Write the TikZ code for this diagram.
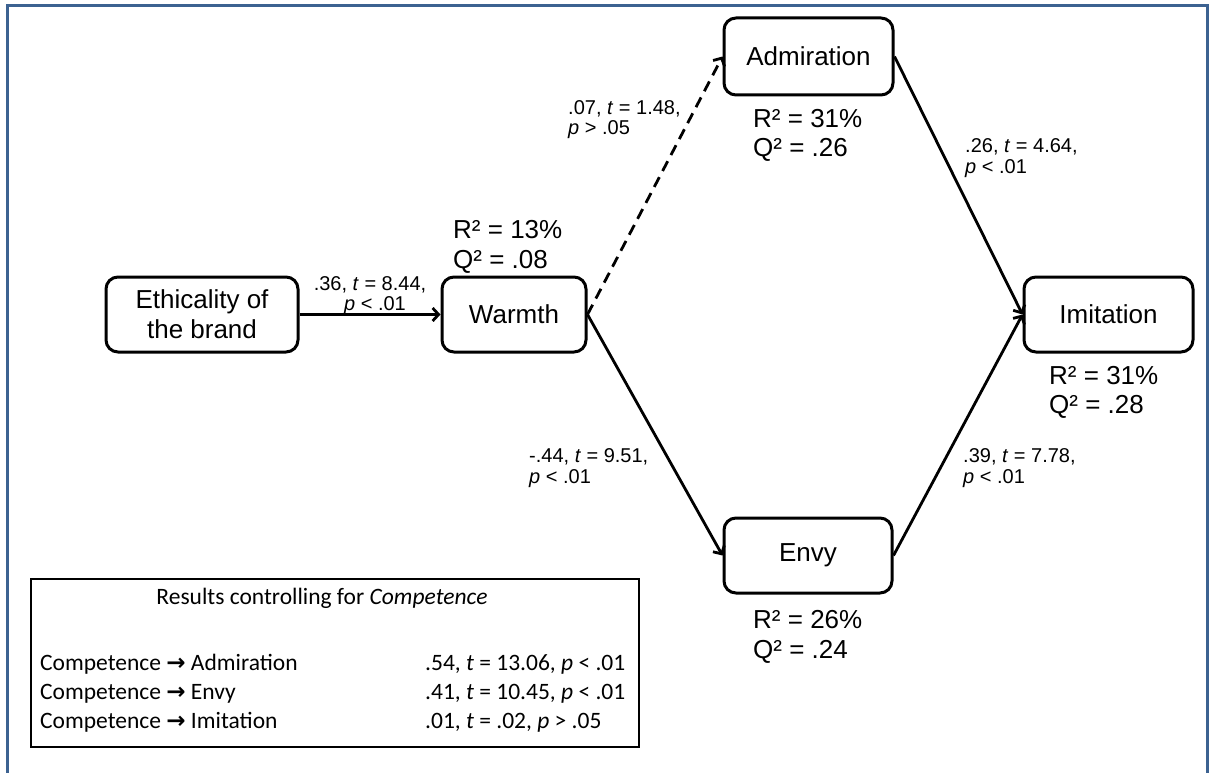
\documentclass[tikz,border=0pt]{standalone}
\usepackage{fontspec}
\setmainfont{Liberation Sans}
\newfontfamily\calib{Carlito}
\newfontfamily\dvsb{DejaVu Sans Bold}
\usetikzlibrary{arrows.meta}
\definecolor{framec}{RGB}{60,98,145}
\begin{document}
\begin{tikzpicture}[x=1pt,y=-1pt,
  box/.style={draw, line width=3pt, rounded corners=12pt, align=center, inner sep=0pt,
    font=\fontsize{26}{30}\selectfont},
  conn/.style={line width=2.8pt, -{Straight Barb[length=6pt,width=13pt]}},
  dashconn/.style={conn, dash pattern=on 11pt off 7pt},
  elab/.style={inner sep=0pt, font=\fontsize{20}{22}\selectfont},
  rlab/.style={inner sep=0pt, anchor=base west, font=\fontsize{26}{30}\selectfont},
  leg/.style={inner sep=0pt, font=\calib\fontsize{23.5}{28}\selectfont},
]
\useasboundingbox (0,0) rectangle (1209,773);
\clip (0,0) rectangle (1209,773);
% frame
\coordinate (fbl) at (7,775);
\coordinate (ftl) at (7,5.5);
\coordinate (ftr) at (1207.5,5.5);
\coordinate (fbr) at (1207.5,775);
\draw[framec, line width=3pt] (fbl) -- (ftl) -- (ftr) -- (fbr);

% boxes
\node[box, minimum width=192pt, minimum height=75pt] (eth) at (202,314.5) {Ethicality of\\the brand};
\node[box, minimum width=144pt, minimum height=75pt] (warmth) at (514,314.5) {Warmth};
\node[box, minimum width=169pt, minimum height=77pt] (adm) at (808.5,56.5) {Admiration};
\node[box, minimum width=168pt, minimum height=75pt] (env) at (808,555.5) {Envy};
\node[box, minimum width=169pt, minimum height=75pt] (imi) at (1108.5,314.5) {Imitation};

% connectors
\draw[conn] (eth.east) -- (warmth.west);
\draw[dashconn] (warmth.east) -- (adm.west);
\draw[conn] (warmth.east) -- (env.west);
\draw[conn] (adm.east) -- (imi.west);
\draw[conn] (env.east) -- (imi.west);

% edge labels
\node[elab, anchor=base] (l1a) at (370,290) {.36, \textit{t} = 8.44,};
\node[elab, anchor=base] (l1b) at (375,310) {\textit{p} < .01};
\node[elab, anchor=base west] (l2a) at (568,114) {.07, \textit{t} = 1.48,};
\node[elab, anchor=base west] (l2b) at (568,135) {\textit{p} > .05};
\node[elab, anchor=base west] (l3a) at (965,152) {.26, \textit{t} = 4.64,};
\node[elab, anchor=base west] (l3b) at (965,173) {\textit{p} < .01};
\node[elab, anchor=base west] (l4a) at (529,462) {-.44, \textit{t} = 9.51,};
\node[elab, anchor=base west] (l4b) at (529,483) {\textit{p} < .01};
\node[elab, anchor=base west] (l5a) at (963,462) {.39, \textit{t} = 7.78,};
\node[elab, anchor=base west] (l5b) at (963,483) {\textit{p} < .01};

% R2 / Q2 labels
\node[rlab] (rw) at (453,238) {R² = 13\%};
\node[rlab] (qw) at (453,268) {Q² = .08};
\node[rlab] (ra) at (753,128) {R² = 31\%};
\node[rlab] (qa) at (753,157) {Q² = .26};
\node[rlab] (ri) at (1049,384) {R² = 31\%};
\node[rlab] (qi) at (1049,413) {Q² = .28};
\node[rlab] (re) at (753,628) {R² = 26\%};
\node[rlab] (qe) at (753,658) {Q² = .24};

% legend
\node[draw, line width=2.5pt, minimum width=608pt, minimum height=168pt, inner sep=0pt] (legend) at (335,663) {};
\node[leg, anchor=base] (lt) at (322,604) {Results controlling for \textit{Competence}};
\node[leg, anchor=base west] (c1) at (40,670) {Competence {\dvsb\fontsize{23}{26}\selectfont →} Admiration};
\node[leg, anchor=base west] (c2) at (40,699) {Competence {\dvsb\fontsize{23}{26}\selectfont →} Envy};
\node[leg, anchor=base west] (c3) at (40,728) {Competence {\dvsb\fontsize{23}{26}\selectfont →} Imitation};
\node[leg, anchor=base west] (v1) at (425,670) {.54, \textit{t} = 13.06, \textit{p} < .01};
\node[leg, anchor=base west] (v2) at (425,699) {.41, \textit{t} = 10.45, \textit{p} < .01};
\node[leg, anchor=base west] (v3) at (425,728) {.01, \textit{t} = .02, \textit{p} > .05};
\end{tikzpicture}
\end{document}
